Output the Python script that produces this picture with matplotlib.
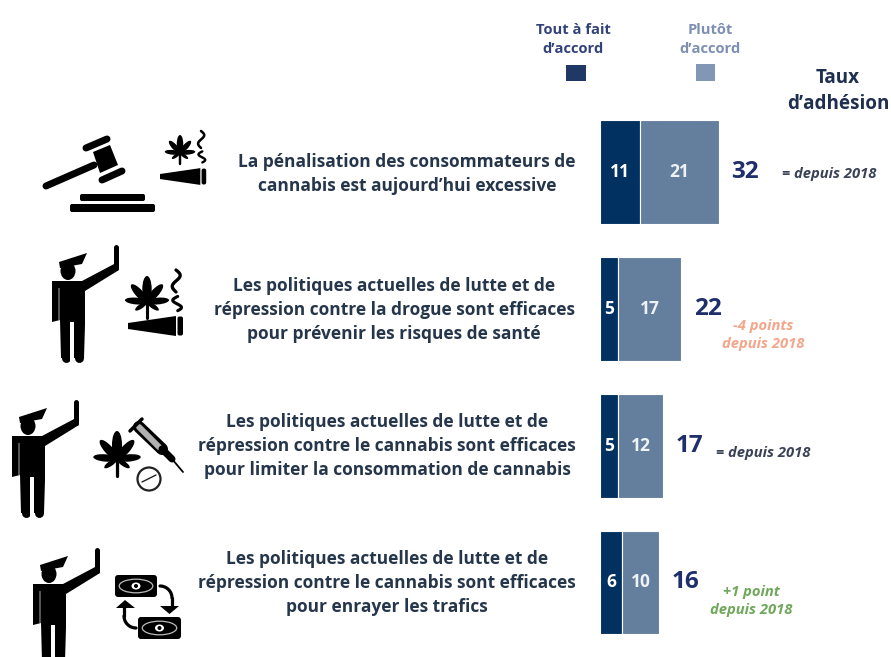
import numpy as np
import matplotlib
matplotlib.use("Agg")
import matplotlib.pyplot as plt
from matplotlib.patches import Polygon, Rectangle, Circle, Ellipse, FancyBboxPatch

statements = [
    "La pénalisation des consommateurs de\ncannabis est aujourd’hui excessive",
    "Les politiques actuelles de lutte et de\nrépression contre la drogue sont efficaces\npour prévenir les risques de santé",
    "Les politiques actuelles de lutte et de\nrépression contre le cannabis sont efficaces\npour limiter la consommation de cannabis",
    "Les politiques actuelles de lutte et de\nrépression contre le cannabis sont efficaces\npour enrayer les trafics",
]
tout_a_fait = [11, 5, 5, 6]
plutot = [21, 17, 12, 10]
totals = [32, 22, 17, 16]
notes = ["= depuis 2018", "-4 points\ndepuis 2018", "= depuis 2018", "+1 point\ndepuis 2018"]

W, H = 891, 657
FONT = "Open Sans"
plt.rcParams["font.family"] = [FONT, "DejaVu Sans"]
DARK, LIGHT = "#003161", "#647F9E"
TEXT = "#26364A"
NAVY = "#1F2F6B"
NOTE_COL = ["#3A4256", "#F4A58A", "#3A4256", "#6FA85A"]

fig = plt.figure(figsize=(W / 100, H / 100), dpi=100, facecolor="white")
ov = fig.add_axes([0, 0, 1, 1])
ov.set_xlim(0, W); ov.set_ylim(H, 0); ov.axis("off")

# ---------- bars
top, row_h = 104.0, 136.7
PX_PER_UNIT = 3.72
bx = fig.add_axes([599.5 / W, 1 - (top + 4 * row_h) / H, 291 / W, 4 * row_h / H])
bx.set_xlim(0, 291 / PX_PER_UNIT)
bx.set_ylim(3.5, -0.5)
bx.axis("off")
bx.patch.set_alpha(0)
ys = np.arange(4)
bx.barh(ys, tout_a_fait, height=0.76, color=DARK, edgecolor="white", linewidth=0.8)
bx.barh(ys, plutot, left=tout_a_fait, height=0.76, color=LIGHT, edgecolor="white", linewidth=0.8)
for y, a, b, t in zip(ys, tout_a_fait, plutot, totals):
    bx.text(a / 2 + 0.1, y, str(a), color="white", fontsize=12.5, fontweight="bold", ha="center", va="center")
    bx.text(a + b / 2, y, str(b), color="#EEF2F6", fontsize=12.5, fontweight="bold", ha="center", va="center")
    bx.annotate(str(t), (a + b, y), xytext=(19, 0), textcoords="offset points", color=NAVY,
                fontsize=17.5, fontweight="bold", ha="center", va="center")

# ---------- statements
stmt_pos = [(407, 174), (394, 310), (387, 446), (387, 583)]
for s, (x, y) in zip(statements, stmt_pos):
    ov.text(x, y, s, color=TEXT, fontsize=12.55, fontweight="bold", ha="center", va="center", linespacing=1.425)

# ---------- change notes
note_pos = [(829, 174), (763, 335), (763, 453), (751, 601)]
for s, (x, y), c in zip(notes, note_pos, NOTE_COL):
    ov.text(x, y, s, color=c, fontsize=10.6, fontweight="bold", style="italic", ha="center", va="center", linespacing=1.3)

# ---------- legend
ov.text(573, 39.5, "Tout à fait\nd’accord", color="#33427A", fontsize=10.6, fontweight="bold", ha="center", va="center", linespacing=1.49)
ov.text(710, 39.5, "Plutôt\nd’accord", color="#7D8FB3", fontsize=10.6, fontweight="bold", ha="center", va="center", linespacing=1.49)
ov.add_patch(Rectangle((566, 65), 20, 16, color="#1F3864", lw=0))
ov.add_patch(Rectangle((696, 64), 19, 17, color="#8197B5", lw=0))
ov.text(838, 91, "Taux\nd’adhésion", color="#1F2F50", fontsize=13.6, fontweight="bold", ha="center", va="center", linespacing=1.36)

# ---------- icons (decorative pictograms)
K = "black"
def line(xs, ys, w, cap="round", c=K):
    ov.plot(xs, ys, color=c, lw=w * 0.72, solid_capstyle=cap, solid_joinstyle="round")

def police(dx, dy):
    P = lambda pts: [(x + dx, y + dy) for x, y in pts]
    ov.add_patch(Polygon(P([(52, 281), (85, 281), (85, 325), (84, 358), (61, 358), (60, 320), (52, 322)]), color=K, lw=0))
    ov.add_patch(Rectangle((70 + dx, 322 + dy), 4, 40, color="white", lw=0, zorder=3))
    ov.add_patch(Rectangle((58 + dx, 288 + dy), 1.5, 32, color="#555555", lw=0, zorder=3))
    ov.add_patch(Ellipse((68 + dx, 271 + dy), 15, 18, color=K, lw=0))
    ov.add_patch(Polygon(P([(59, 262), (87, 253), (82, 264), (60, 268)]), color=K, lw=0))
    ov.add_patch(Polygon(P([(82, 281), (116, 263), (119, 270), (85, 291)]), color=K, lw=0))
    line([115.5 + dx, 115.5 + dx], [247 + dy, 268 + dy], 5)
    line([65.5 + dx, 65.5 + dx], [330 + dy, 358 + dy], 9)
    line([78.5 + dx, 78.5 + dx], [330 + dy, 358 + dy], 9)

def leaf(cx, cy, s):
    for ang, ln, wd in [(0, 1.0, 0.36), (42, 0.9, 0.3), (-42, 0.9, 0.3), (85, 0.85, 0.26),
                        (-85, 0.85, 0.26), (125, 0.55, 0.18), (-125, 0.55, 0.18)]:
        r = np.radians(ang)
        ex, ey = cx + np.sin(r) * ln * s / 2, cy - np.cos(r) * ln * s / 2
        ov.add_patch(Ellipse((ex, ey), wd * s, ln * s, angle=ang, color=K, lw=0))
    line([cx, cx], [cy, cy + 0.62 * s], 0.08 * s + 1)

def smoke(x, y, s):
    t = np.linspace(0, 1, 40)
    line(x + s * 4 * np.sin(t * 2 * np.pi) * (1 - 0.2 * t), y + s * 20 * t, 3.0 * s)
    t = np.linspace(0, 1, 30)
    line(x + s * (1 + 4 * np.sin(t * 2 * np.pi + 3)), y + s * 24 + s * 13 * t, 2.8 * s)

def joint(x, y, s):
    ov.add_patch(Polygon([(x, y), (x + 48 * s, y - 7 * s), (x + 48 * s, y + 13 * s), (x, y + 6 * s)], color=K, lw=0))
    ov.add_patch(FancyBboxPatch((x + 49.5 * s, y - 6.5 * s), 5.5 * s, 19 * s, boxstyle="round,pad=0,rounding_size=2", color=K, lw=0))

def money(x, y, w, h):
    ov.add_patch(FancyBboxPatch((x, y), w, h, boxstyle="round,pad=0,rounding_size=3", color=K, lw=0))
    ov.add_patch(Ellipse((x + w / 2, y + h / 2), w * 0.8, h * 0.62, fc="none", ec="#BBBBBB", lw=0.9))
    ov.add_patch(Ellipse((x + w / 2, y + h / 2), 9, 7, color="white", lw=0))
    ov.add_patch(Circle((x + w / 2, y + h / 2), 2, color=K, lw=0))

# gavel
line([46, 94], [186, 165], 7)
ov.add_patch(Polygon([(93, 152), (110, 145), (118, 165), (100, 173)], color=K, lw=0))
line([86, 107], [148, 139], 7)
line([102, 122], [180, 171], 7)
ov.add_patch(FancyBboxPatch((80, 194), 65, 7, boxstyle="round,pad=0,rounding_size=2", color=K, lw=0))
ov.add_patch(FancyBboxPatch((70, 204), 85, 8, boxstyle="round,pad=0,rounding_size=2", color=K, lw=0))
leaf(180, 153, 18); smoke(201, 131, 0.85); joint(160, 174, 0.84)

# row 2
police(0, 0); leaf(147, 302, 26); smoke(176, 270, 1.1); joint(128, 323, 1.0)
# row 3
police(-40, 155); leaf(117, 459, 28)
line([139, 162], [427, 449], 12)
line([139, 159], [427, 447], 6, c="#B0B0B0")
line([162, 172], [449, 459], 7)
line([172, 183], [459, 472], 1.8)
line([130, 142], [431, 419], 3.5)
ov.add_patch(Circle((149, 479), 11.5, fc="white", ec="#222222", lw=1.6))
line([142, 156], [482, 475], 1.4, c="#222222")
# row 4
police(-19, 303)
money(115, 575, 42, 22); money(138, 617, 43, 22)
t = np.linspace(0, np.pi / 2, 12)
line(160 + 12 * np.sin(t), 598 - 12 * np.cos(t), 3.2)
line([172, 172], [598, 606], 3.2)
ov.add_patch(Polygon([(160, 606), (179, 606), (169.5, 614)], color=K, lw=0))
line(136 - 12 * np.sin(t), 616 + 12 * np.cos(t), 3.2)
line([124, 124], [616, 607], 3.2)
ov.add_patch(Polygon([(116, 608), (135, 608), (125, 600)], color=K, lw=0))

fig.savefig("out.png", dpi=100)
